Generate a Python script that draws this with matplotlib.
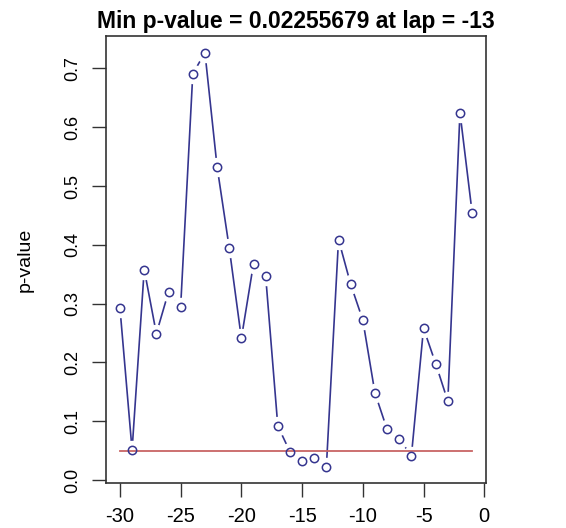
import matplotlib
matplotlib.use("Agg")
import matplotlib.pyplot as plt
import numpy as np

lags = list(range(-30, 0))
pvalues = [0.293, 0.051, 0.358, 0.249, 0.320, 0.295, 0.691, 0.727, 0.533, 0.395,
           0.241, 0.368, 0.347, 0.092, 0.048, 0.032, 0.037, 0.02255679, 0.409, 0.333,
           0.272, 0.148, 0.086, 0.070, 0.041, 0.258, 0.198, 0.134, 0.625, 0.455]
threshold = 0.05
title = "Min p-value = 0.02255679 at lap = -13"
xticks = [-30, -25, -20, -15, -10, -5, 0]
yticks = [0.0, 0.1, 0.2, 0.3, 0.4, 0.5, 0.6, 0.7]

plt.rcParams['font.family'] = ['Liberation Sans', 'DejaVu Sans']

fig = plt.figure(figsize=(5.66, 5.28), dpi=100)
ax = fig.add_axes([0.187, 0.0847, 0.672, 0.847])

line_col = "#35358f"
ax.plot(lags, pvalues, color=line_col, lw=1.2, zorder=1)
ax.plot(lags, pvalues, ls='none', marker='o', markersize=13, markerfacecolor='white',
        markeredgecolor='white', zorder=2)
ax.plot([lags[0], lags[-1]], [threshold, threshold], color="#c86464", lw=1.3, zorder=3)
ax.plot(lags, pvalues, ls='none', marker='o', markersize=6, markerfacecolor='none',
        markeredgecolor=line_col, markeredgewidth=1.1, zorder=4)

xr = lags[-1] - lags[0]
ax.set_xlim(lags[0] - 0.04 * xr, lags[-1] + 0.04 * xr)
ymin, ymax = min(pvalues), max(pvalues)
yr = ymax - ymin
ax.set_ylim(ymin - 0.04 * yr, ymax + 0.04 * yr)

ax.set_xticks(xticks)
ax.set_xticklabels([str(v) for v in xticks], fontsize=14.5)
ax.set_yticks(yticks)
ax.set_yticklabels([f"{v:.1f}" for v in yticks], fontsize=13, rotation=90, va='center')
ax.tick_params(axis='x', length=10, width=1, color='#333333', pad=7)
ax.tick_params(axis='y', length=10, width=1, color='#333333', pad=8)
for s in ax.spines.values():
    s.set_linewidth(1.2)
    s.set_color('#333333')

ax.set_ylabel("p-value", fontsize=14, labelpad=22)
ax.set_title(title, fontsize=16.5, fontweight='bold', pad=6)

fig.savefig("out.png", dpi=100)
